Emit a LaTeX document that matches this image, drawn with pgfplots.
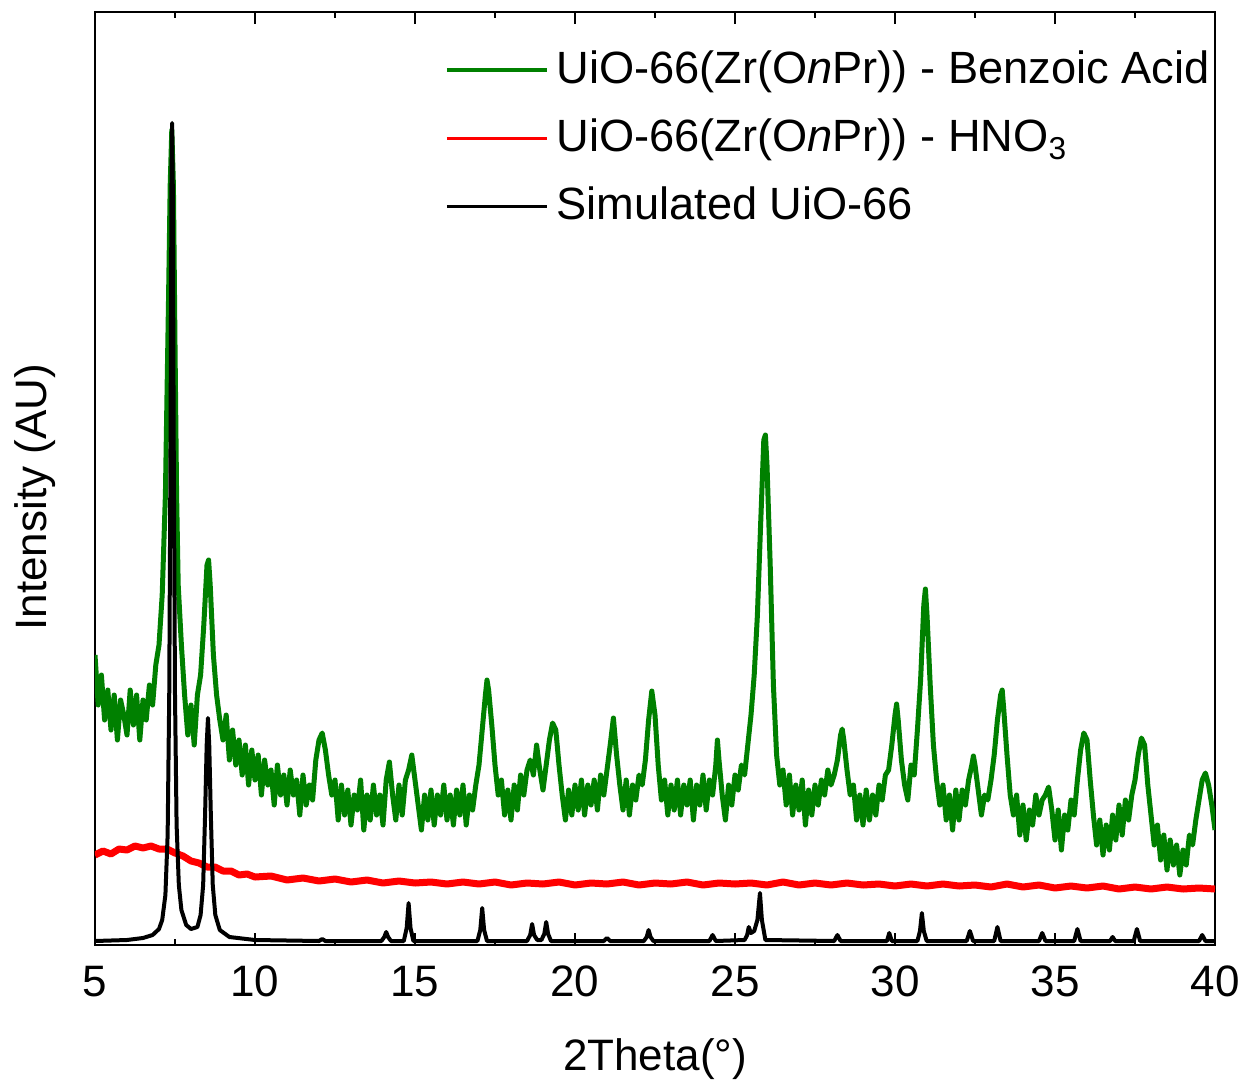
\documentclass[border=0pt]{standalone}
\usepackage{fontspec}
\setmainfont{Liberation Sans}
\usepackage{pgfplots}
\pgfplotsset{compat=1.18}
\definecolor{mygreen}{RGB}{0,128,0}
\begin{document}
\fontsize{22}{26}\selectfont
\begin{tikzpicture}
\begin{axis}[name=ax, scale only axis, width=560pt, height=466.5pt,
  xmin=5, xmax=40, ymin=0, ymax=933,
  xtick={5,10,...,40}, minor x tick num=1, ytick=\empty,
  tick align=inside, major tick length=6pt, minor tick length=3pt,
  axis line style={line width=1.2pt},
  every tick/.style={line width=1pt, black},
  tick label style={font=\fontsize{22}{26}\selectfont},
  /pgf/number format/assume math mode=true,
  xticklabel style={yshift=-3pt},
  xlabel={2Theta(°)}, ylabel={Intensity (AU)},
  every axis x label/.style={at={(axis description cs:0.5,0)}, anchor=center, yshift=-57pt, font=\fontsize{22}{26}\selectfont},
  every axis y label/.style={at={(axis description cs:-0.0536,0.48)}, rotate=90, anchor=center, font=\fontsize{22}{26}\selectfont},
  legend style={draw=none, fill=none, at={(axis description cs:0.307,0.968)}, anchor=north west, font=\fontsize{22.6}{26}\selectfont, row sep=10.5pt, nodes={inner xsep=4pt}},
  legend cell align=left,
  legend image code/.code={\draw[#1,line width=1.6pt] (0pt,0pt) -- (50pt,0pt);},
]
\addplot[mygreen, line width=2.5pt, line join=round] coordinates {
(5.0,290)(5.1,240)(5.2,270)(5.3,225)(5.4,255)(5.5,215)(5.6,250)(5.7,205)(5.8,245)(5.9,230)
(6.0,210)(6.1,255)(6.2,220)(6.3,250)(6.4,205)(6.5,245)(6.6,225)(6.7,260)(6.8,240)(6.9,280)
(7.0,300)(7.1,350)(7.2,450)(7.3,650)(7.35,760)(7.4,815)(7.45,760)(7.5,600)(7.55,450)(7.6,360)
(7.7,300)(7.8,250)(7.9,210)(8.0,240)(8.1,200)(8.2,250)(8.3,270)(8.4,320)(8.5,380)(8.55,385)
(8.6,360)(8.7,290)(8.8,250)(8.9,225)(9.0,205)(9.1,230)(9.2,185)(9.3,215)(9.4,180)(9.5,205)
(9.6,170)(9.7,200)(9.8,160)(9.9,195)(10.0,165)(10.1,190)(10.2,150)(10.3,185)(10.4,160)(10.5,175)
(10.6,140)(10.7,180)(10.8,150)(10.9,170)(11.0,140)(11.1,175)(11.2,150)(11.3,165)(11.4,130)(11.5,170)
(11.6,140)(11.7,160)(11.8,145)(11.9,185)(12.0,205)(12.1,212)(12.2,195)(12.3,170)(12.4,150)(12.5,165)
(12.6,125)(12.7,160)(12.8,130)(12.9,155)(13.0,120)(13.1,150)(13.2,135)(13.3,165)(13.4,115)(13.5,150)
(13.6,125)(13.7,160)(13.8,130)(13.9,150)(14.0,120)(14.1,165)(14.2,183)(14.3,150)(14.4,125)(14.5,160)
(14.6,130)(14.7,165)(14.8,175)(14.9,190)(15.0,165)(15.1,140)(15.2,115)(15.3,150)(15.4,125)(15.5,155)
(15.6,120)(15.7,150)(15.8,130)(15.9,160)(16.0,125)(16.1,150)(16.2,120)(16.3,155)(16.4,130)(16.5,160)
(16.6,120)(16.7,150)(16.8,135)(16.9,160)(17.0,180)(17.1,215)(17.2,250)(17.25,265)(17.3,255)(17.4,220)
(17.5,180)(17.6,150)(17.7,165)(17.8,130)(17.9,155)(18.0,125)(18.1,160)(18.2,135)(18.3,170)(18.4,150)
(18.5,175)(18.6,185)(18.7,170)(18.8,200)(18.9,175)(19.0,155)(19.1,180)(19.2,205)(19.3,222)(19.4,215)
(19.5,180)(19.6,150)(19.7,125)(19.8,155)(19.9,130)(20.0,160)(20.1,135)(20.2,165)(20.3,130)(20.4,160)
(20.5,140)(20.6,165)(20.7,135)(20.8,170)(20.9,150)(21.0,175)(21.1,200)(21.2,227)(21.3,190)(21.4,160)
(21.5,135)(21.6,165)(21.7,130)(21.8,160)(21.9,145)(22.0,170)(22.1,160)(22.2,185)(22.3,225)(22.4,254)
(22.5,230)(22.6,180)(22.7,145)(22.8,165)(22.9,130)(23.0,160)(23.1,135)(23.2,165)(23.3,130)(23.4,160)
(23.5,140)(23.6,165)(23.7,125)(23.8,160)(23.9,140)(24.0,170)(24.1,135)(24.2,165)(24.3,150)(24.4,180)
(24.45,205)(24.5,185)(24.6,150)(24.7,125)(24.8,160)(24.9,140)(25.0,170)(25.1,155)(25.2,180)(25.3,170)
(25.4,200)(25.5,230)(25.6,270)(25.7,330)(25.8,420)(25.9,505)(25.95,510)(26.0,480)(26.1,380)(26.2,260)
(26.3,190)(26.4,160)(26.5,175)(26.6,140)(26.7,170)(26.8,130)(26.9,160)(27.0,135)(27.1,165)(27.2,120)
(27.3,155)(27.4,130)(27.5,160)(27.6,140)(27.7,165)(27.8,150)(27.9,175)(28.0,160)(28.1,170)(28.2,185)
(28.3,210)(28.35,216)(28.4,205)(28.5,175)(28.6,150)(28.7,160)(28.8,125)(28.9,150)(29.0,120)(29.1,155)
(29.2,125)(29.3,150)(29.4,130)(29.5,160)(29.6,145)(29.7,170)(29.8,175)(29.9,200)(30.0,230)(30.05,241)
(30.1,225)(30.2,185)(30.3,160)(30.4,145)(30.5,180)(30.6,170)(30.7,215)(30.8,265)(30.9,340)(30.95,356)
(31.0,330)(31.1,260)(31.2,200)(31.3,165)(31.4,140)(31.5,160)(31.6,125)(31.7,150)(31.8,115)(31.9,155)
(32.0,125)(32.1,155)(32.2,140)(32.3,165)(32.4,180)(32.45,189)(32.5,180)(32.6,155)(32.7,130)(32.8,150)
(32.9,145)(33.0,165)(33.1,190)(33.2,225)(33.3,250)(33.35,255)(33.4,235)(33.5,190)(33.6,150)(33.7,130)
(33.8,150)(33.9,110)(34.0,140)(34.1,105)(34.2,135)(34.3,120)(34.4,150)(34.5,130)(34.6,145)(34.7,150)
(34.8,158)(34.9,135)(35.0,105)(35.1,135)(35.2,95)(35.3,130)(35.4,115)(35.5,145)(35.6,130)(35.7,165)
(35.8,195)(35.9,212)(36.0,205)(36.1,165)(36.2,130)(36.3,100)(36.4,125)(36.5,90)(36.6,120)(36.7,95)
(36.8,130)(36.9,105)(37.0,140)(37.1,110)(37.2,145)(37.3,125)(37.4,150)(37.5,165)(37.6,190)(37.7,207)
(37.8,200)(37.9,160)(38.0,130)(38.1,100)(38.2,120)(38.3,85)(38.4,110)(38.5,75)(38.6,105)(38.7,80)
(38.8,100)(38.9,70)(39.0,95)(39.1,80)(39.2,110)(39.3,100)(39.4,125)(39.5,145)(39.6,165)(39.7,172)
(39.8,160)(39.9,140)(40.0,115)
};
\addlegendentry{UiO-66(Zr(O\textit{n}Pr)) - Benzoic Acid}
\addplot[red, line width=3.5pt, line join=round] coordinates {
(5.0,90)(5.25,94)(5.5,91)(5.75,96)(6.0,95)(6.25,99)(6.5,97)(6.75,99)(7.0,96)(7.25,96)
(7.5,92)(7.75,89)(8.0,84)(8.25,82)(8.5,78)(8.75,78)(9.0,74)(9.25,74)(9.5,70)(9.75,71)
(10.0,68)(10.5,69)(11.0,65)(11.5,67)(12.0,64)(12.5,66)(13.0,63)(13.5,65)(14.0,62)(14.5,64)
(15.0,62)(15.5,63)(16.0,61)(16.5,63)(17.0,61)(17.5,63)(18.0,60)(18.5,62)(19.0,61)(19.5,63)
(20.0,60)(20.5,62)(21.0,61)(21.5,63)(22.0,60)(22.5,62)(23.0,61)(23.5,63)(24.0,60)(24.5,62)
(25.0,61)(25.5,62)(26.0,60)(26.5,63)(27.0,60)(27.5,62)(28.0,60)(28.5,62)(29.0,60)(29.5,61)
(30.0,59)(30.5,61)(31.0,59)(31.5,61)(32.0,59)(32.5,60)(33.0,58)(33.5,61)(34.0,58)(34.5,60)
(35.0,57)(35.5,59)(36.0,57)(36.5,59)(37.0,56)(37.5,58)(38.0,56)(38.5,58)(39.0,56)(39.5,57)(40.0,56)
};
\addlegendentry{UiO-66(Zr(O\textit{n}Pr)) - HNO\textsubscript{3}}
\addplot[black, line width=2pt, line join=round] coordinates {
(5.0,4)(6.0,5)(6.5,7)(6.8,10)(7.0,16)(7.1,25)(7.2,50)(7.27,110)(7.32,250)(7.36,500)
(7.39,760)(7.41,822)(7.43,760)(7.46,500)(7.5,250)(7.55,120)(7.62,60)(7.7,35)(7.85,20)(8.0,16)
(8.2,18)(8.3,30)(8.38,60)(8.44,130)(8.49,200)(8.53,227)(8.57,200)(8.62,130)(8.68,60)(8.76,30)
(8.9,15)(9.2,8)(10.0,5)(12.0,4)(12.1,6)(12.2,4)
(13.95,4)(14.04,8)(14.1,13)(14.16,8)(14.25,4)
(14.65,4)(14.74,17)(14.8,42)(14.86,17)(14.95,4)
(16.95,4)(17.04,15)(17.1,37)(17.16,15)(17.25,4)
(18.5,4)(18.6,10)(18.66,21)(18.72,10)(18.82,5)(18.95,5)(19.04,11)(19.1,23)(19.16,11)(19.25,4)
(20.9,4)(21.0,7)(21.1,4)
(22.15,4)(22.24,8)(22.3,15)(22.36,8)(22.45,4)
(24.2,4)(24.3,10)(24.4,4)
(25.3,5)(25.38,10)(25.43,18)(25.5,12)(25.6,14)(25.7,25)(25.78,52)(25.84,25)(25.95,5)
(28.1,4)(28.2,10)(28.3,4)
(29.75,4)(29.82,12)(29.9,4)
(30.7,4)(30.78,14)(30.84,32)(30.9,14)(30.99,4)
(32.24,4)(32.34,14)(32.44,4)
(33.1,4)(33.2,18)(33.3,4)
(34.5,4)(34.6,12)(34.7,4)
(35.6,4)(35.7,16)(35.8,4)
(36.72,4)(36.8,8)(36.88,4)
(37.46,4)(37.56,16)(37.66,4)
(39.5,4)(39.6,10)(39.7,4)(40.0,4)
};
\addlegendentry{Simulated UiO-66}
\end{axis}
\pgfresetboundingbox
\path ([xshift=-47.5pt,yshift=-68.5pt]ax.south west) rectangle ([xshift=12.5pt,yshift=6pt]ax.north east);
\end{tikzpicture}
\end{document}
